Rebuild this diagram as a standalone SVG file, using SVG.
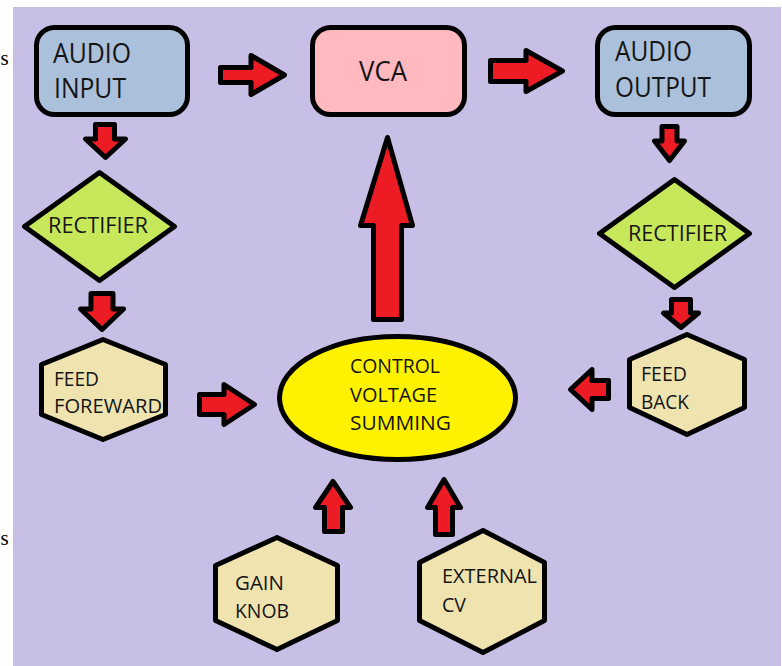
<svg xmlns="http://www.w3.org/2000/svg" width="782" height="666" viewBox="0 0 782 666">
<style>
.sh{stroke:#000;stroke-width:5;stroke-linejoin:round}
.box{fill:#abc0da}
.vca{fill:#ffb9bf}
.dia{fill:#c8e85c}
.hex{fill:#efe4b0}
.ell{fill:#fff200}
.arr{fill:#ed1c24;stroke:#000;stroke-width:5;stroke-linejoin:round}
.t{font-family:"Open Sans","Liberation Sans",sans-serif;fill:#151515}
.big{font-size:27px}
.mid{font-size:22px}
.sm{font-size:20px}
.s{font-family:"Liberation Serif",serif;font-size:21px;fill:#000}
</style>
<rect x="0" y="0" width="782" height="666" fill="#fff"/>
<text class="s" x="0.5" y="65">s</text>
<text class="s" x="0.5" y="545">s</text>
<rect x="13" y="7" width="768" height="659" fill="#c8bfe7"/>

<g id="audio-input">
<rect class="sh box" x="36.5" y="27.5" width="151" height="87" rx="18"/>
<text class="t big" x="53" y="63" textLength="78" lengthAdjust="spacingAndGlyphs">AUDIO</text>
<text class="t big" x="54" y="98" textLength="72" lengthAdjust="spacingAndGlyphs">INPUT</text>
</g>
<g id="vca">
<rect class="sh vca" x="312.5" y="27.5" width="152" height="87" rx="18"/>
<text class="t big" x="359" y="81" textLength="48" lengthAdjust="spacingAndGlyphs">VCA</text>
</g>
<g id="audio-output">
<rect class="sh box" x="597.5" y="27.5" width="152" height="87" rx="18"/>
<text class="t big" x="615" y="61" textLength="77" lengthAdjust="spacingAndGlyphs">AUDIO</text>
<text class="t big" x="615" y="97" textLength="96" lengthAdjust="spacingAndGlyphs">OUTPUT</text>
</g>
<g id="rectifier-left">
<polygon class="sh dia" points="99.5,172.5 174.5,226.5 99.5,280.5 24.5,226.5"/>
<text class="t mid" x="48" y="233" textLength="100" lengthAdjust="spacingAndGlyphs">RECTIFIER</text>
</g>
<g id="rectifier-right">
<polygon class="sh dia" points="674.5,179.5 749.5,233.5 674.5,287.5 599.5,233.5"/>
<text class="t mid" x="628" y="241" textLength="99" lengthAdjust="spacingAndGlyphs">RECTIFIER</text>
</g>
<g id="feed-forward">
<polygon class="sh hex" points="103,339.5 165.5,364.5 165.5,414.5 103,439.5 41.5,414.5 41.5,364.5"/>
<text class="t sm" x="54" y="386" textLength="45" lengthAdjust="spacingAndGlyphs">FEED</text>
<text class="t sm" x="54" y="413" textLength="108" lengthAdjust="spacingAndGlyphs">FOREWARD</text>
</g>
<g id="feed-back">
<polygon class="sh hex" points="687,334.5 744.5,359.5 744.5,407.5 687,434.5 629.5,407.5 629.5,359.5"/>
<text class="t sm" x="641" y="381" textLength="46" lengthAdjust="spacingAndGlyphs">FEED</text>
<text class="t sm" x="641" y="409" textLength="48" lengthAdjust="spacingAndGlyphs">BACK</text>
</g>
<g id="cv-summing">
<ellipse class="sh ell" cx="397.5" cy="398" rx="118" ry="61.5"/>
<text class="t sm" x="350" y="373" textLength="90" lengthAdjust="spacingAndGlyphs">CONTROL</text>
<text class="t sm" x="350" y="402" textLength="87" lengthAdjust="spacingAndGlyphs">VOLTAGE</text>
<text class="t sm" x="350" y="430" textLength="101" lengthAdjust="spacingAndGlyphs">SUMMING</text>
</g>
<g id="gain-knob">
<polygon class="sh hex" points="277,537.5 337.5,565.5 337.5,620.5 277,649.5 215.5,620.5 215.5,565.5"/>
<text class="t sm" x="235" y="590" textLength="49" lengthAdjust="spacingAndGlyphs">GAIN</text>
<text class="t sm" x="235" y="618" textLength="54" lengthAdjust="spacingAndGlyphs">KNOB</text>
</g>
<g id="external-cv">
<polygon class="sh hex" points="483,530.5 544.5,562.5 544.5,620.5 483,652.5 419.5,620.5 419.5,562.5"/>
<text class="t sm" x="442" y="583" textLength="95" lengthAdjust="spacingAndGlyphs">EXTERNAL</text>
<text class="t sm" x="442" y="612" textLength="24" lengthAdjust="spacingAndGlyphs">CV</text>
</g>

<g id="connectors">
<path class="arr" d="M220.5,67.5 H251 V55.5 L284.5,75 L251,94.5 V82.5 H220.5 Z"/>
<path class="arr" d="M490.5,60.5 H526 V50.5 L562.5,71 L526,91.5 V81.5 H490.5 Z"/>
<path class="arr" d="M95.5,124.5 H114.5 V139 H125.5 L105.5,157.5 L85.5,139 H95.5 Z"/>
<path class="arr" d="M91,293.5 H113 V309 H123.5 L102,329.5 L80.5,309 H91 Z"/>
<path class="arr" d="M662,126.5 H677 V141 H684.5 L669.5,160.5 L654.5,141 H662 Z"/>
<path class="arr" d="M671.5,299.5 H690.5 V313 H698.5 L681,327.5 L663.5,313 H671.5 Z"/>
<path class="arr" d="M608.5,380.5 H592 V369.5 L570.5,389.5 L592,409.5 V398.5 H608.5 Z"/>
<path class="arr" d="M199.5,394.5 H224 V384.5 L254.5,404.5 L224,424.5 V414.5 H199.5 Z"/>
<path class="arr" d="M373.5,319.5 V225.5 H360.5 L387.5,137.5 L412.5,225.5 H401.5 V319.5 Z"/>
<path class="arr" d="M324.5,531.5 V507.5 H315.5 L333,481.5 L350.5,507.5 H342.5 V531.5 Z"/>
<path class="arr" d="M435.5,534.5 V507.5 H427.5 L444,479.5 L460.5,507.5 H452.5 V534.5 Z"/>
</g>
</svg>
